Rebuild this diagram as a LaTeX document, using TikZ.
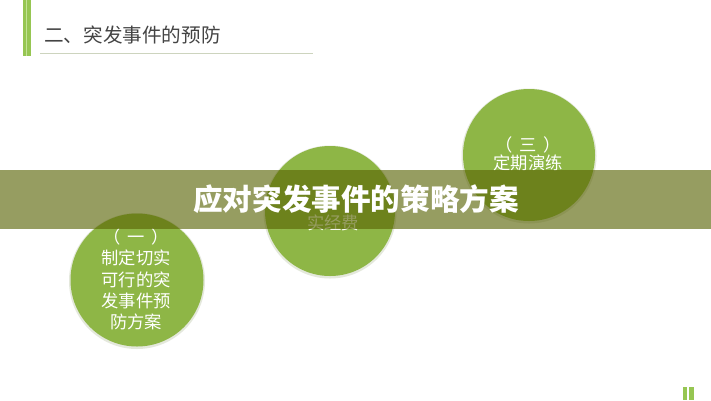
\documentclass[tikz,border=0pt]{standalone}
\usepackage{fontspec}
\newfontfamily\cjk{Noto Sans CJK SC}
\definecolor{circgreen}{RGB}{142,182,70}
\definecolor{bargreen}{RGB}{150,198,82}
\definecolor{barlight}{RGB}{196,226,150}
\definecolor{bannercol}{RGB}{90,100,5}
\definecolor{titlegray}{RGB}{68,68,68}
\definecolor{rulecol}{RGB}{205,212,190}
\definecolor{shadowcol}{RGB}{228,232,220}
\newcommand{\pspace}{\hspace{0.4em}}
\tikzset{
  circ/.style={circle, fill=circgreen, inner sep=0pt, minimum size=#1},
  shadowc/.style={circle, fill=shadowcol, inner sep=0pt, minimum size=#1},
  ctext/.style={text=white, font=\cjk\fontsize{17.3}{21.3}\selectfont, align=center, inner sep=0pt},
}
\begin{document}
\begin{tikzpicture}[x=1pt,y=-1pt]
\useasboundingbox (0,0) rectangle (711,400);
\fill[white] (0,0) rectangle (711,400);
% header
\fill[bargreen] (23,0) rectangle (30.5,56);
\fill[barlight] (26.2,0) rectangle (27.3,56);
\node[anchor=west, inner sep=0pt, text=titlegray, font=\cjk\fontsize{19.6}{22}\selectfont] (head) at (44,35) {二、突发事件的预防};
\coordinate (ruleL) at (40,53);
\coordinate (ruleR) at (313,53);
\draw[rulecol, line width=1pt] (ruleL) -- (ruleR);
% circles shadows
\node[shadowc=136pt] (s1) at (137,281) {};
\node[shadowc=133pt] (s2) at (330,212) {};
\node[shadowc=135pt] (s3) at (529,156) {};
% circles
\node[circ=133pt] (c1) at (137,280) {};
\node[circ=130pt] (c2) at (330,211) {};
\node[circ=132pt] (c3) at (529,155) {};
% circle texts
\node[ctext] (t1) at (136,279.5) {（\pspace 一\pspace）\\制定切实\\可行的突\\发事件预\\防方案};
\node[ctext, font=\cjk\fontsize{17.3}{18.5}\selectfont] (t3) at (528,154) {（\pspace 三\pspace）\\定期演练};
\node[ctext] (t2) at (333,223) {实经费};
% banner
\fill[bannercol, opacity=0.63] (0,170) rectangle (711,228.5);
\node[text=white, inner sep=0pt, font=\cjk\bfseries\fontsize{29.6}{32}\selectfont] (banner) at (356,199) {应对突发事件的策略方案};
% bottom right marks
\fill[bargreen] (683,387) rectangle (687,400);
\fill[bargreen] (689,387) rectangle (693.5,400);
\end{tikzpicture}
\end{document}
